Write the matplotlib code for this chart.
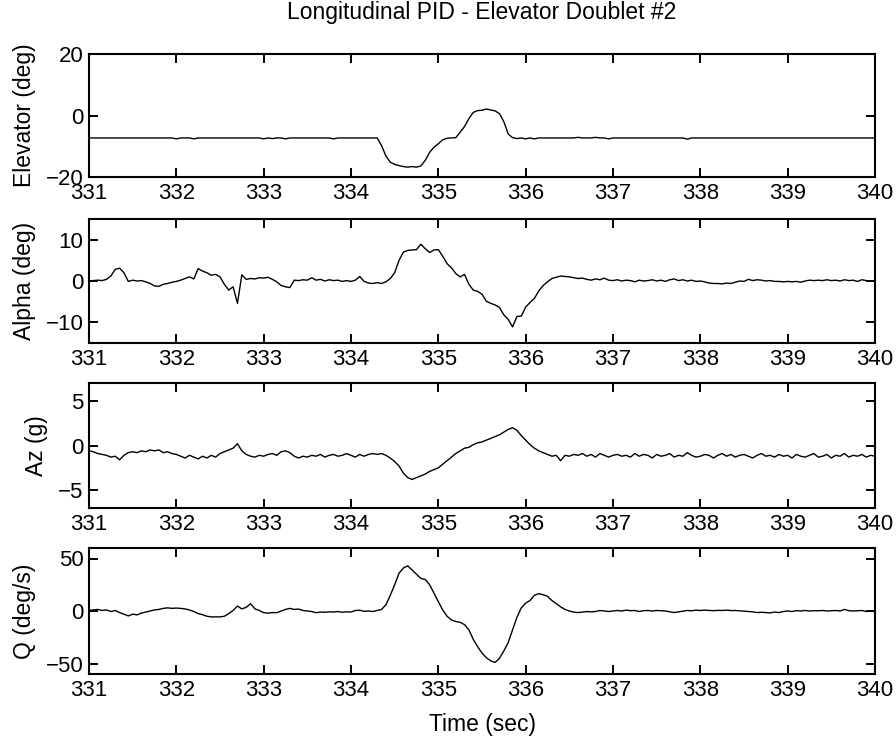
import numpy as np
import matplotlib
matplotlib.use("Agg")
import matplotlib.pyplot as plt

plt.rcParams['font.family'] = ['Liberation Sans', 'DejaVu Sans']

# ---- data (sampled every 0.05 s from 331.0 to 340.0 s) ----
t_start = 331.0
t_end = 340.0

elevator = [
    -7.3, -7.3, -7.3, -7.3, -7.3, -7.3, -7.3, -7.3, -7.3, -7.3, -7.3, -7.3, -7.3, -7.3, -7.3, -7.3, -7.3, -7.3, -7.3, -7.3,
    -7.6, -7.3, -7.3, -7.3, -7.6, -7.3, -7.3, -7.3, -7.3, -7.3, -7.3, -7.3, -7.3, -7.3, -7.3, -7.3, -7.3, -7.3, -7.3, -7.3,
    -7.6, -7.3, -7.5, -7.3, -7.3, -7.6, -7.3, -7.3, -7.3, -7.3, -7.3, -7.3, -7.3, -7.3, -7.3, -7.3, -7.6, -7.3, -7.3, -7.3,
    -7.3, -7.3, -7.3, -7.3, -7.3, -7.3, -7.3, -9.8, -13.2, -15.2, -15.9, -16.3, -16.6, -16.8, -16.6, -16.8, -16.4, -14.6, -12.0, -10.3,
    -9.2, -7.9, -7.4, -7.3, -7.2, -5.4, -3.6, -1.0, 1.0, 1.6, 1.7, 2.1, 1.8, 1.5, 0.6, -2.0, -6.0, -7.2, -7.5, -7.3,
    -7.6, -7.3, -7.6, -7.3, -7.3, -7.3, -7.3, -7.3, -7.3, -7.3, -7.3, -7.3, -7.1, -7.3, -7.3, -7.3, -7.1, -7.3, -7.3, -7.6,
    -7.3, -7.3, -7.3, -7.3, -7.3, -7.3, -7.3, -7.3, -7.3, -7.3, -7.3, -7.3, -7.3, -7.3, -7.3, -7.3, -7.3, -7.7, -7.3, -7.3,
    -7.3, -7.3, -7.3, -7.3, -7.3, -7.3, -7.3, -7.3, -7.3, -7.3, -7.3, -7.3, -7.3, -7.3, -7.3, -7.3, -7.3, -7.3, -7.3, -7.3,
    -7.3, -7.3, -7.3, -7.3, -7.3, -7.3, -7.3, -7.3, -7.3, -7.3, -7.3, -7.3, -7.3, -7.3, -7.3, -7.3, -7.3, -7.3, -7.3, -7.3,
    -7.3,
]

alpha = [
    0.0, 0.1, 0.2, 0.1, 0.4, 1.2, 2.8, 3.1, 2.0, -0.1, 0.2, 0.0, 0.1, -0.2, -0.6, -1.2, -1.3, -0.8, -0.6, -0.3,
    -0.1, 0.2, 0.6, 1.0, 0.5, 3.0, 2.4, 2.0, 1.4, 1.6, 1.0, -0.8, -2.2, -1.4, -5.4, 1.5, 0.4, 0.6, 0.5, 0.8,
    0.7, 0.9, 0.4, -0.2, -1.1, -1.4, -1.6, 0.2, 0.1, 0.3, 0.2, 0.8, 0.2, 0.4, 0.0, 0.3, 0.1, 0.2, -0.1, 0.1,
    -0.1, 0.2, 1.1, -0.1, -0.5, -0.6, -0.4, -0.6, -0.2, 0.6, 2.0, 5.0, 7.0, 7.4, 7.5, 7.6, 8.9, 7.8, 6.9, 7.5,
    7.6, 6.0, 4.2, 3.2, 1.8, 1.0, 1.6, -0.8, -2.2, -2.5, -3.2, -4.9, -5.4, -5.8, -6.4, -8.2, -9.3, -11.1, -8.6, -8.5,
    -6.3, -5.2, -4.2, -2.4, -1.1, -0.2, 0.6, 0.9, 1.2, 1.1, 1.0, 0.8, 0.6, 0.7, 0.4, 0.2, 0.5, 0.3, 0.7, 0.2,
    0.1, 0.3, 0.0, 0.2, 0.1, -0.2, 0.2, 0.0, 0.1, 0.3, 0.0, 0.2, -0.1, 0.3, 0.5, 0.1, 0.3, 0.0, 0.2, -0.1,
    0.0, -0.2, -0.5, -0.6, -0.6, -0.7, -0.5, -0.6, -0.3, 0.0, -0.1, 0.4, 0.1, 0.3, 0.2, 0.0, 0.1, -0.1, -0.1, -0.2,
    -0.1, -0.2, -0.1, -0.3, 0.0, 0.2, 0.1, 0.2, 0.1, 0.3, 0.1, 0.2, 0.0, 0.3, 0.1, 0.2, -0.1, 0.3, 0.1, 0.0,
    0.1,
]

az = [
    -0.6, -0.7, -0.9, -1.0, -1.1, -1.3, -1.2, -1.6, -1.1, -0.8, -0.7, -0.8, -0.6, -0.7, -0.5, -0.6, -0.5, -0.8, -0.7, -0.9,
    -1.0, -1.2, -1.4, -1.1, -1.3, -1.5, -1.2, -1.4, -1.1, -1.3, -0.9, -0.7, -0.5, -0.3, 0.2, -0.6, -1.0, -1.2, -1.3, -1.1,
    -1.2, -1.0, -0.9, -1.1, -0.7, -0.6, -0.8, -1.2, -1.4, -1.2, -1.3, -1.1, -1.2, -1.0, -1.3, -1.1, -1.0, -1.2, -1.1, -0.9,
    -1.1, -1.3, -1.0, -1.2, -1.0, -0.9, -1.0, -0.9, -1.1, -1.4, -1.8, -2.3, -3.1, -3.6, -3.8, -3.6, -3.4, -3.2, -2.9, -2.7,
    -2.5, -2.1, -1.7, -1.3, -0.9, -0.6, -0.3, -0.2, 0.1, 0.3, 0.4, 0.6, 0.8, 1.0, 1.2, 1.5, 1.8, 2.0, 1.7, 1.1,
    0.6, 0.1, -0.3, -0.6, -0.8, -1.0, -1.2, -1.1, -1.7, -1.1, -1.2, -1.0, -1.1, -0.9, -1.2, -1.0, -1.3, -0.9, -1.1, -1.3,
    -1.1, -1.0, -1.2, -1.1, -1.3, -0.9, -1.2, -1.0, -1.1, -1.4, -1.0, -1.2, -1.1, -0.9, -1.3, -1.1, -1.2, -0.8, -1.1, -1.3,
    -1.2, -1.0, -1.1, -1.4, -1.1, -0.9, -1.2, -1.0, -1.3, -1.1, -1.0, -1.2, -1.4, -1.1, -0.9, -1.2, -1.1, -1.3, -1.0, -1.2,
    -1.1, -1.4, -1.0, -1.2, -1.3, -1.1, -0.9, -1.3, -1.2, -1.0, -1.4, -1.1, -1.2, -0.9, -1.3, -1.1, -1.2, -1.0, -1.3, -1.1,
    -1.2,
]

q = [
    0.5, 1.0, 1.5, 0.5, 1.0, -0.5, 0.5, -1.5, -3.0, -4.7, -3.0, -3.7, -2.0, -1.0, 0.0, 1.0, 1.5, 2.5, 3.0, 2.5,
    2.8, 2.5, 2.0, 1.0, -0.5, -2.5, -3.5, -5.0, -5.6, -5.6, -5.6, -5.0, -2.5, 0.5, 4.7, 2.0, 3.5, 6.9, 2.0, 0.5,
    -1.6, -2.0, -1.5, -1.6, 0.0, 1.5, 2.5, 1.5, 1.8, 0.5, 0.0, -0.5, -1.6, -1.0, -1.2, -0.8, -1.0, -0.5, -1.2, -0.8,
    -1.0, 0.5, 0.7, -0.3, 0.0, -0.5, 0.5, 1.5, 6.0, 15.0, 25.0, 36.0, 41.0, 43.0, 39.0, 35.0, 31.0, 30.0, 25.0, 17.0,
    9.0, 1.0, -5.0, -8.5, -10.0, -10.8, -13.0, -18.0, -27.0, -34.0, -40.0, -44.5, -47.5, -49.0, -45.0, -38.0, -30.0, -18.0, -6.0, 3.0,
    7.5, 10.0, 15.0, 16.5, 15.5, 14.0, 10.0, 7.0, 4.0, 1.5, 0.0, -1.0, -1.5, -1.0, -0.5, -0.8, -0.5, 0.5, 0.0, -0.5,
    0.0, 0.5, 0.0, 0.8, 0.3, 0.5, -0.5, 0.3, 0.5, 0.0, 0.5, 0.2, 0.0, -0.8, -1.5, -0.8, 0.0, 0.5, 0.2, 0.8,
    0.5, 0.8, 0.5, 0.3, 0.6, 0.5, 0.8, 0.4, 0.5, 0.2, 0.0, -0.5, -0.8, -1.5, -1.2, -1.5, -1.8, -1.0, -1.5, -0.5,
    0.0, -0.5, 0.3, 0.0, 0.5, 0.0, 0.3, 0.2, 0.5, 0.0, 0.3, 0.5, 0.0, 1.5, 0.3, 0.0, 0.2, 0.5, -0.5, 0.0,
    -0.5,
]

ylabels = ["Elevator (deg)", "Alpha (deg)", "Az (g)", "Q (deg/s)"]
ylims = [(-20, 20), (-15, 15), (-7, 7), (-60, 60)]
yticks = [[-20, 0, 20], [-10, 0, 10], [-5, 0, 5], [-50, 0, 50]]
xticks = [331, 332, 333, 334, 335, 336, 337, 338, 339, 340]
title = "Longitudinal PID - Elevator Doublet #2"
xlabel = "Time (sec)"

series = [elevator, alpha, az, q]
t = np.linspace(t_start, t_end, len(elevator))

W, H = 896, 742
fig = plt.figure(figsize=(W / 100, H / 100), dpi=100)

# axes boxes in pixel coords (top, bottom)
boxes = [(54, 177), (219, 343), (383, 508), (548, 674)]
left_px, right_px = 89, 875

for i, (yv, lab, yl, yt) in enumerate(zip(series, ylabels, ylims, yticks)):
    top, bot = boxes[i]
    ax = fig.add_axes([left_px / W, 1 - bot / H, (right_px - left_px) / W, (bot - top) / H])
    ax.plot(t, yv, color='black', lw=1.0)
    ax.set_xlim(t_start, t_end)
    ax.set_ylim(*yl)
    ax.set_yticks(yt)
    ax.set_xticks(xticks)
    ax.set_xticklabels([str(x) for x in xticks])
    ax.tick_params(direction='in', length=6.5, width=1.4, top=True, right=True,
                   labelsize=16, pad=4)
    for s in ax.spines.values():
        s.set_linewidth(1.5)
    ax.set_ylabel(lab, fontsize=16.5, labelpad=7)

fig.text(482 / W, 1 - 13 / H, title, ha='center', va='center', fontsize=16.5)
fig.text(482 / W, 1 - 724 / H, xlabel, ha='center', va='center', fontsize=16.5)

fig.savefig("out.png", dpi=100, facecolor='white')
